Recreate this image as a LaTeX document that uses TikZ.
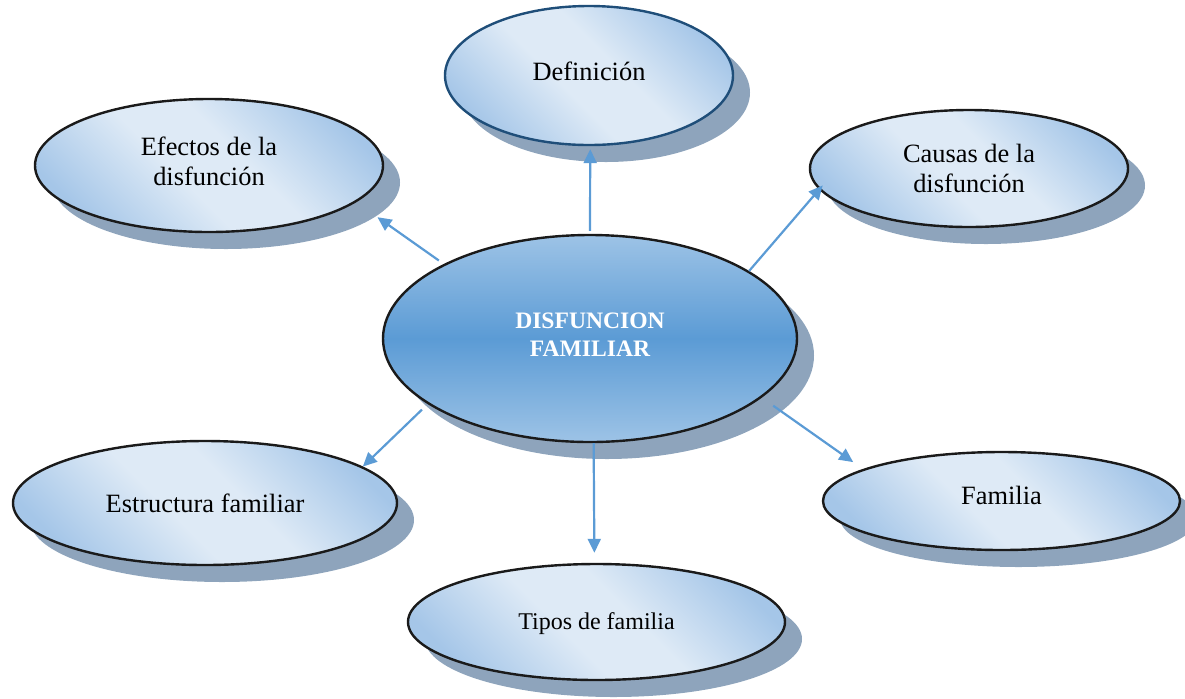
\documentclass[tikz,border=0pt]{standalone}
\usepackage{fontspec}
\setmainfont{Liberation Serif}
\usetikzlibrary{shapes.geometric,shadows,arrows.meta}
\definecolor{edgeblue}{HTML}{A5C6E8}
\definecolor{lightblue}{HTML}{DEEAF6}
\definecolor{ctop}{HTML}{9DC3E6}
\definecolor{cmid}{HTML}{5B9BD5}
\definecolor{shadowc}{HTML}{8EA4BC}
\definecolor{arrowc}{HTML}{5B9BD5}
\definecolor{bordc}{HTML}{1A1A1A}
\definecolor{defbord}{HTML}{1F4E79}
\pgfdeclarehorizontalshading{lightband}{100bp}{color(0bp)=(edgeblue); color(24bp)=(edgeblue); color(44bp)=(lightblue); color(56bp)=(lightblue); color(76bp)=(edgeblue); color(100bp)=(edgeblue)}
\tikzset{
  topic/.style={ellipse, draw=bordc, line width=1.2pt, shade, shading=lightband, shading angle=45,
    drop shadow={shadow xshift=8.5pt, shadow yshift=-8.5pt, opacity=1, fill=shadowc},
    inner sep=0pt, align=center, font=\fontsize{13.2}{15}\selectfont},
  hub/.style={ellipse, draw=bordc, line width=1.2pt, top color=ctop, bottom color=ctop, middle color=cmid,
    drop shadow={shadow xshift=8.5pt, shadow yshift=-8.5pt, opacity=1, fill=shadowc},
    inner sep=0pt, align=center, text=white, font=\bfseries\fontsize{11.8}{14}\selectfont},
  link/.style={draw=arrowc, line width=1.1pt, -{Triangle[length=7pt,width=6.5pt]}}
}
\begin{document}
\begin{tikzpicture}[x=0.5pt,y=-0.5pt]
\useasboundingbox (0,0) rectangle (1185,698);
\node[topic, draw=defbord, minimum width=144pt, minimum height=69.5pt, text depth=4.5pt] (def) at (589,75.5) {Definición};
\node[topic, minimum width=174pt, minimum height=66.5pt, text depth=4pt] (eff) at (209,165.5) {Efectos de la\\disfunción};
\node[topic, minimum width=159pt, minimum height=58.5pt] (cau) at (969,168.5) {Causas de la\\disfunción};
\node[topic, minimum width=192pt, minimum height=62pt] (est) at (205,503) {Estructura familiar};
\node[topic, minimum width=178.5pt, minimum height=49pt, text depth=6pt] (fam) at (1001.5,501) {Familia};
\node[topic, minimum width=188.5pt, minimum height=58pt, text depth=1pt, font=\fontsize{12}{14}\selectfont] (tip) at (596.5,622) {Tipos de familia};
\node[hub, minimum width=207pt, minimum height=103.5pt, text depth=4pt] (hub) at (590,338.5) {DISFUNCION\\FAMILIAR};
\draw[link, shorten <=3pt, shorten >=13pt] (hub.153.6) -- (eff.-14.9);
\draw[link, shorten <=1.5pt, shorten >=1.5pt] (hub.90) -- (def.-89.6);
\draw[link, shorten >=-2.75pt] (hub.23.1) -- (cau.188.7);
\draw[link, shorten <=7pt, shorten >=6pt] (hub.-19.3) -- (fam.167.4);
\draw[link, shorten >=5pt] (hub.-88) -- (tip.92.5);
\draw[link, shorten <=4pt] (hub.202.6) -- (est.13.3);
\end{tikzpicture}
\end{document}
